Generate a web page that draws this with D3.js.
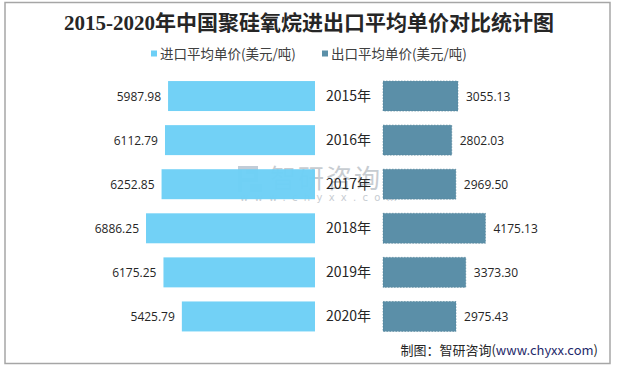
<!DOCTYPE html>
<html><head><meta charset="utf-8">
<script src="https://cdn.jsdelivr.net/npm/d3@7/dist/d3.min.js"></script>
<style>body{margin:0;background:#fff}svg{display:block}</style>
</head><body><svg id="c" width="617" height="367"></svg>
<script>
const years = ["2015年","2016年","2017年","2018年","2019年","2020年"];
const importPrice = [5987.98, 6112.79, 6252.85, 6886.25, 6175.25, 5425.79];
const exportPrice = [3055.13, 2802.03, 2969.50, 4175.13, 3373.30, 2975.43];
const seriesNames = ["进口平均单价(美元/吨)", "出口平均单价(美元/吨)"];
const colors = ["#6dcff6", "#5b8fa8"];

const svg = d3.select("#c");
svg.append("rect").attr("x",5).attr("y",2.5).attr("width",605).attr("height",361)
  .attr("fill","#fff").attr("stroke","#a6a6a6").attr("stroke-width",1.5);

svg.append("text").attr("x",309).attr("y",30).attr("text-anchor","middle")
  .attr("font-family","'Liberation Serif','Noto Sans CJK SC',serif").attr("font-weight","bold")
  .attr("font-size",21).attr("fill","#262626").text("2015-2020年中国聚硅氧烷进出口平均单价对比统计图");

// legend
const lg = [{x:151, n:seriesNames[0], c:colors[0]},{x:322, n:seriesNames[1], c:colors[1]}];
lg.forEach(d=>{
  svg.append("rect").attr("x",d.x).attr("y",50.5).attr("width",6).attr("height",6).attr("fill",d.c);
  svg.append("text").attr("x",d.x+9).attr("y",58.5).attr("font-family","'Noto Sans CJK SC',sans-serif")
    .attr("font-size",13.5).attr("fill","#404040").text(d.n);
});

const y = d3.scaleBand().domain(years).range([74,338.5]).paddingInner(0.32).paddingOuter(0.16);
const k = 0.02454;
const xL = d3.scaleLinear().domain([0,7000]).range([315, 315-7000*k]);
const xR = d3.scaleLinear().domain([0,7000]).range([383, 383+7000*k]);

// watermark
const wm = svg.append("g").attr("opacity",0.55);
wm.append("path").attr("d","M238,166h20v4h-16v8h12v-4h-8v-4h12v12h-16v10h-4z M250,184h12v8h-12z").attr("fill","#8fa3b8");
wm.append("text").attr("x",270).attr("y",188).attr("font-family","'Noto Sans CJK SC',sans-serif")
  .attr("font-size",26).attr("fill","#9aa3ad").attr("letter-spacing",2).text("智研咨询");
wm.append("text").attr("x",240).attr("y",201).attr("font-family","'DejaVu Sans',sans-serif")
  .attr("font-size",10).attr("fill","#9aa3ad").attr("letter-spacing",6.3).text("www.chyxx.com");

const fnum = d3.format(".2f");
svg.selectAll(".bl").data(years).enter().append("rect")
  .attr("x",(d,i)=>xL(importPrice[i])).attr("y",d=>y(d))
  .attr("width",(d,i)=>xL(0)-xL(importPrice[i])).attr("height",y.bandwidth())
  .attr("fill",colors[0]).attr("fill-opacity",0.97);
svg.selectAll(".br").data(years).enter().append("rect")
  .attr("x",xR(0)).attr("y",d=>y(d))
  .attr("width",(d,i)=>xR(exportPrice[i])-xR(0)).attr("height",y.bandwidth())
  .attr("fill",colors[1]).attr("stroke","#4f7f96").attr("stroke-width",0.6).attr("stroke-dasharray","1.5,1.5");

const numFont = "'Open Sans','DejaVu Sans',sans-serif";
svg.selectAll(".tl").data(years).enter().append("text")
  .attr("x",(d,i)=>xL(importPrice[i])-7).attr("y",d=>y(d)+y.bandwidth()/2+4.5)
  .attr("text-anchor","end").attr("font-family",numFont).attr("font-size",12).attr("fill","#262626")
  .text((d,i)=>fnum(importPrice[i]));
svg.selectAll(".tr").data(years).enter().append("text")
  .attr("x",(d,i)=>xR(exportPrice[i])+8).attr("y",d=>y(d)+y.bandwidth()/2+4.5)
  .attr("text-anchor","start").attr("font-family",numFont).attr("font-size",12).attr("fill","#262626")
  .text((d,i)=>fnum(exportPrice[i]));
svg.selectAll(".yl").data(years).enter().append("text")
  .attr("x",348.5).attr("y",d=>y(d)+y.bandwidth()/2+5)
  .attr("text-anchor","middle").attr("font-family","'Noto Sans CJK SC',sans-serif").attr("font-size",14).attr("fill","#262626")
  .text(d=>d);

const src = svg.append("text").attr("x",598).attr("y",355).attr("text-anchor","end")
  .attr("font-family","'Noto Sans CJK SC',sans-serif").attr("font-size",13).attr("fill","#262626");
src.append("tspan").text("制图：智研咨询(");
src.append("tspan").attr("fill","#1f2a6b").text("www.chyxx.com");
src.append("tspan").text(")");
</script></body></html>
